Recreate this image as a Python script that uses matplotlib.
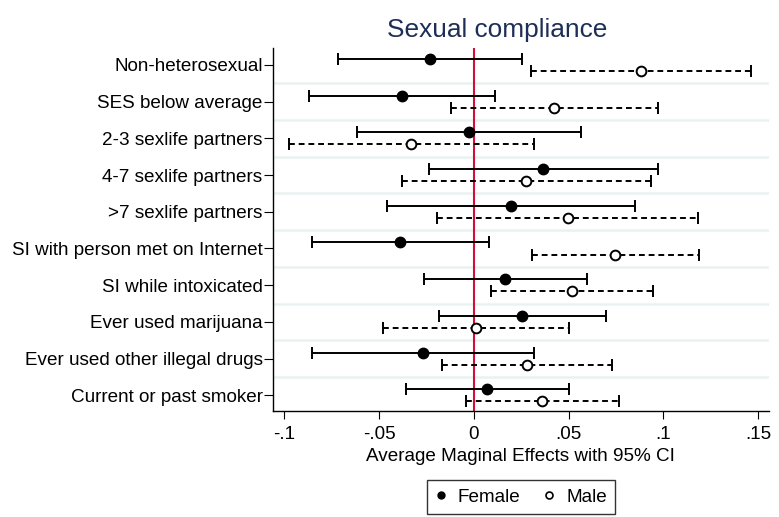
import numpy as np
import matplotlib.pyplot as plt
from matplotlib.lines import Line2D

plt.rcParams['font.family'] = ['Liberation Sans', 'DejaVu Sans']

labels = ['Non-heterosexual', 'SES below average', '2-3 sexlife partners',
          '4-7 sexlife partners', '>7 sexlife partners',
          'SI with person met on Internet', 'SI while intoxicated',
          'Ever used marijuana', 'Ever used other illegal drugs',
          'Current or past smoker']

# average marginal effects with 95% CI
female_est = [-0.0231, -0.0380, -0.0028, 0.0366, 0.0195, -0.0389, 0.0167, 0.0254, -0.0269, 0.0072]
female_lo = [-0.0717, -0.0870, -0.0618, -0.0238, -0.0460, -0.0854, -0.0261, -0.0185, -0.0854, -0.0358]
female_hi = [0.0254, 0.0111, 0.0564, 0.0972, 0.0851, 0.0081, 0.0599, 0.0696, 0.0320, 0.0503]

male_est = [0.0880, 0.0423, -0.0329, 0.0275, 0.0495, 0.0743, 0.0519, 0.0014, 0.0280, 0.0359]
male_lo = [0.0301, -0.0122, -0.0974, -0.0380, -0.0197, 0.0305, 0.0090, -0.0477, -0.0167, -0.0042]
male_hi = [0.1461, 0.0970, 0.0319, 0.0933, 0.1185, 0.1189, 0.0947, 0.0502, 0.0729, 0.0766]

xticks = [-0.1, -0.05, 0, 0.05, 0.1, 0.15]
xticklabels = ['-.1', '-.05', '0', '.05', '.1', '.15']

fs = 13.6
fig = plt.figure(figsize=(7.79, 5.17), dpi=100)
ax = fig.add_axes([273 / 779, 1 - 410.7 / 517, 496 / 779, 363 / 517])

pos = np.arange(1, len(labels) + 1)
off = 0.165

# light separators between rows
for y in pos[:-1] + 0.5:
    ax.axhline(y, color='#EAF1F3', lw=1.8, zorder=0)

ax.axvline(0, color='#D0103A', lw=1.5, zorder=1)

f_err = [np.subtract(female_est, female_lo), np.subtract(female_hi, female_est)]
ax.errorbar(female_est, pos - off, xerr=f_err, fmt='o', color='black',
            ms=7.5, lw=1.4, capsize=4, capthick=1.4, zorder=3)

m_err = [np.subtract(male_est, male_lo), np.subtract(male_hi, male_est)]
eb = ax.errorbar(male_est, pos + off, xerr=m_err, fmt='o', color='black',
                 mfc='white', mec='black', mew=1.4, ms=7, lw=1.4,
                 capsize=4, capthick=1.2, zorder=3)
for lc in eb[2]:
    lc.set_linestyle((0, (3, 2)))

ax.set_xlim(-0.1060, 0.1558)
ax.set_ylim(10.42, 0.53)
ax.set_yticks(pos)
ax.set_yticklabels(labels, fontsize=fs)
ax.set_xticks(xticks)
ax.set_xticklabels(xticklabels, fontsize=fs)
ax.tick_params(axis='y', length=6.5, width=0.8, pad=1)
ax.tick_params(axis='x', length=6, width=0.8, pad=5)
ax.spines['top'].set_visible(False)
ax.spines['right'].set_visible(False)
ax.spines['left'].set_linewidth(1)
ax.spines['bottom'].set_linewidth(1)

fig.text(496.7 / 779, 1 - 37 / 517, 'Sexual compliance', fontsize=18.9,
         color='#1F2E57', ha='center', va='baseline')
fig.text(520.3 / 779, 1 - 460.7 / 517, 'Average Maginal Effects with 95% CI',
         fontsize=fs, ha='center', va='baseline')

handles = [Line2D([], [], ls='none', marker='o', color='black', ms=5),
           Line2D([], [], ls='none', marker='o', mfc='white', mec='black', mew=1.2, ms=5)]
leg = fig.legend(handles, ['Female', 'Male'], loc='center', ncol=2,
                 bbox_to_anchor=(521 / 779, 1 - 497 / 517), fontsize=fs,
                 frameon=True, fancybox=False, edgecolor='black',
                 handlelength=0.6, handletextpad=0.6, columnspacing=1.2,
                 borderpad=0.45)
leg.get_frame().set_linewidth(1)

fig.savefig('out.png', dpi=100)
